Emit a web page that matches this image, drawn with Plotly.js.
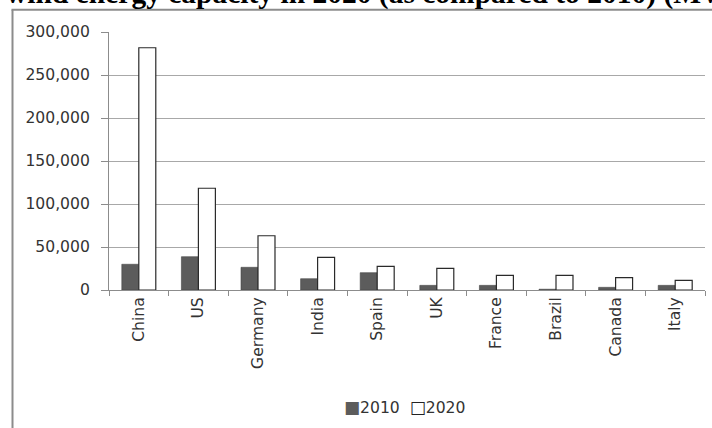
<!DOCTYPE html>
<html>
<head>
<meta charset="utf-8">
<script src="https://cdn.plot.ly/plotly-3.0.1.min.js"></script>
<style>
  html, body { margin: 0; padding: 0; background: #ffffff; }
  #chart { width: 712px; height: 428px; }
</style>
</head>
<body>
<div id="chart"></div>
<script>
// Installed wind energy capacity by country (MW)
const countries = ["China", "US", "Germany", "India", "Spain", "UK", "France", "Brazil", "Canada", "Italy"];
const seriesNames = ["2010", "2020"];
const capacity2010 = [29900, 38700, 26400, 13100, 20100, 5400, 5400, 900, 3100, 5400];
const capacity2020 = [281700, 118300, 63100, 38000, 27500, 25200, 17000, 17000, 14300, 11300];
const yTickValues = [0, 50000, 100000, 150000, 200000, 250000, 300000];
const titleText = "wind energy capacity in 2020 (as compared to 2010) (MW)";

const W = 712, H = 428;
const M = { l: 109, r: 7, t: 32, b: 138 };
const plotW = W - M.l - M.r;
const plotH = H - M.t - M.b;
// convert figure pixels to paper coordinates
const px = x => (x - M.l) / plotW;
const py = y => (H - M.b - y) / plotH;

const colors = ["#5c5c5c", "#ffffff"];
const lineColors = ["#444444", "#2a2a2a"];
const font = "DejaVu Sans, sans-serif";
const textColor = "#333333";

const traces = [capacity2010, capacity2020].map((vals, i) => ({
  type: "bar",
  name: seriesNames[i],
  x: countries,
  y: vals,
  marker: { color: colors[i], line: { color: lineColors[i], width: i === 0 ? 0.6 : 1.2 } },
  hoverinfo: "x+y+name"
}));

// legend drawn as one line of text with square markers
const legendText = seriesNames.map((n, i) =>
  `<span style="font-size:17px;color:${i === 0 ? colors[0] : "#222"}">${i === 0 ? "■" : "□"}</span>${n}`
).join("  ");

const layout = {
  width: W,
  height: H,
  margin: M,
  paper_bgcolor: "#ffffff",
  plot_bgcolor: "#ffffff",
  barmode: "group",
  bargap: 0.43,
  bargroupgap: 0,
  showlegend: false,
  font: { family: font, size: 15.6, color: textColor },
  xaxis: {
    type: "category",
    showline: true,
    linecolor: "#8c8c8c",
    linewidth: 1,
    showgrid: false,
    ticks: "outside",
    tickson: "boundaries",
    ticklen: 5,
    tickcolor: "#8c8c8c",
    tickangle: -90,
    tickfont: { family: font, size: 15.6, color: textColor },
    fixedrange: true
  },
  yaxis: {
    range: [0, 300000],
    tickvals: yTickValues,
    tickformat: ",",
    showline: true,
    linecolor: "#8c8c8c",
    linewidth: 1,
    showgrid: true,
    gridcolor: "#a8a8a8",
    gridwidth: 1,
    zeroline: false,
    ticks: "outside",
    ticklen: 7,
    tickcolor: "#8c8c8c",
    ticklabelstandoff: 8,
    tickfont: { family: font, size: 15.6, color: textColor },
    fixedrange: true
  },
  shapes: [
    // chart frame: left and top edges
    { type: "line", xref: "paper", yref: "paper", x0: px(12.5), x1: px(12.5), y0: py(440), y1: py(9.7),
      line: { color: "#8c8c8c", width: 2 } },
    { type: "line", xref: "paper", yref: "paper", x0: px(11.5), x1: px(730), y0: py(9.7), y1: py(9.7),
      line: { color: "#8c8c8c", width: 2 } }
  ],
  annotations: [
    { text: titleText, xref: "paper", yref: "paper", x: px(5), y: py(11), xanchor: "left", yanchor: "bottom",
      showarrow: false, borderpad: 0,
      font: { family: "Liberation Serif, Times New Roman, serif", size: 29.5, color: "#000000", weight: "bold" } },
    { text: legendText, xref: "paper", yref: "paper", x: px(404), y: py(406.7), xanchor: "center", yanchor: "middle",
      showarrow: false, font: { family: font, size: 15.6, color: textColor } }
  ]
};

Plotly.newPlot("chart", traces, layout, { displayModeBar: false, staticPlot: true });
</script>
</body>
</html>
